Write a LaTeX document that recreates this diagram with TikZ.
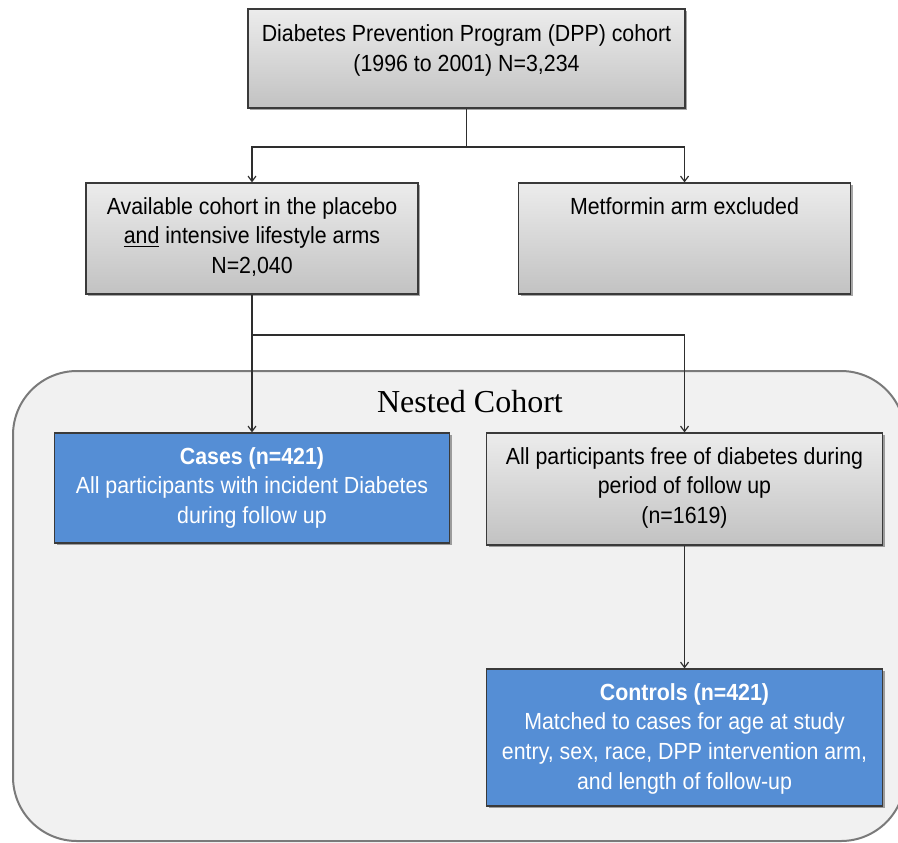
\documentclass[tikz,border=0pt]{standalone}
\usepackage{fontspec}
\setmainfont[FakeStretch=0.915]{Liberation Sans}
\newfontfamily\serifnc{Liberation Serif}
\usetikzlibrary{arrows.meta,shadows}
\definecolor{boxline}{HTML}{3A3A3A}
\definecolor{graytop}{HTML}{ECECEC}
\definecolor{graybot}{HTML}{C2C2C2}
\definecolor{blueb}{HTML}{558ED5}
\definecolor{nestfill}{HTML}{F1F1F1}
\definecolor{nestline}{HTML}{7A7A7A}
\definecolor{conn}{HTML}{2E2E2E}
\tikzset{
  basebox/.style={rectangle, draw=boxline, line width=0.9pt, inner sep=0pt,
    drop shadow={shadow xshift=1.6pt, shadow yshift=-1.6pt, opacity=0.35, fill=black}},
  graybox/.style={basebox, top color=graytop, bottom color=graybot},
  bluebox/.style={basebox, fill=blueb},
  boxtext/.style={inner sep=0pt, align=center, anchor=north, font=\fontsize{17.5}{22.2}\selectfont},
  conline/.style={draw=conn, line width=0.9pt},
  arr/.style={conline, -{Straight Barb[length=4pt,width=6pt]}}
}
\begin{document}
\begin{tikzpicture}[x=0.75pt, y=-0.75pt]
\useasboundingbox (0,0) rectangle (898,842);
\clip (0,0) rectangle (898,842);
% nested cohort background
\path[fill=nestfill, draw=nestline, line width=1.5pt, rounded corners=48pt]
  (13,371) rectangle (905,841);
\node (nestlbl) at (470,402) {\serifnc\fontsize{24}{28}\selectfont Nested Cohort};
% boxes
\node[graybox, minimum width=327.75pt, minimum height=74.25pt] (top) at (466.5,58.5) {};
\node[graybox, minimum width=249pt, minimum height=83.25pt] (avail) at (252,238.5) {};
\node[graybox, minimum width=249pt, minimum height=83.25pt] (metf) at (684.5,238.5) {};
\node[bluebox, minimum width=296.25pt, minimum height=82.5pt] (cases) at (252,488) {};
\node[graybox, minimum width=297pt, minimum height=84pt] (free) at (684.5,489) {};
\node[bluebox, minimum width=297pt, minimum height=102.75pt] (ctrl) at (684.5,737.5) {};
% texts
\node[boxtext] (toptxt) at ([yshift=-12pt]top.north) {Diabetes Prevention Program (DPP) cohort\\(1996 to 2001) N=3,234};
\node[boxtext] (availtxt) at ([yshift=-11pt]avail.north) {Available cohort in the placebo\\\underline{and} intensive lifestyle arms\\N=2,040};
\node[boxtext] (metftxt) at ([yshift=-11pt]metf.north) {Metformin arm excluded};
\node[boxtext, text=white] (casestxt) at ([yshift=-11pt]cases.north) {\textbf{Cases (n=421)}\\All participants with incident Diabetes\\during follow up};
\node[boxtext] (freetxt) at ([yshift=-11pt]free.north) {All participants free of diabetes during\\period of follow up\\(n=1619)};
\node[boxtext, text=white] (ctrltxt) at ([yshift=-11pt]ctrl.north) {\textbf{Controls (n=421)}\\Matched to cases for age at study\\entry, sex, race, DPP intervention arm,\\and length of follow-up};
% connectors
\coordinate (j1) at (466.5,147);
\coordinate (j2) at (252,335);
\draw[conline] (top.south) -- (j1);
\draw[arr] (j1) -| (avail.north);
\draw[arr] (j1) -| (metf.north);
\draw[arr] (avail.south) -- (cases.north);
\draw[arr] (j2) -| (free.north);
\draw[arr] (free.south) -- (ctrl.north);
\end{tikzpicture}
\end{document}
